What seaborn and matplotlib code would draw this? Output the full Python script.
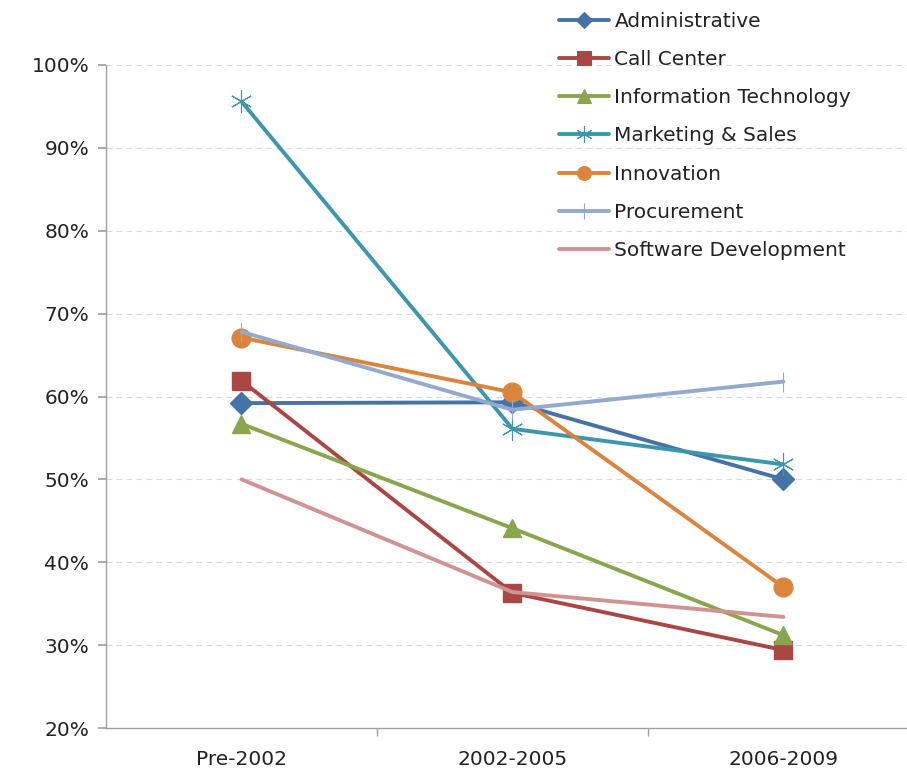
import pandas as pd
import matplotlib.pyplot as plt
import seaborn as sns
from matplotlib.lines import Line2D
from matplotlib.ticker import PercentFormatter

# data
periods = ["Pre-2002", "2002-2005", "2006-2009"]
administrative = [59.2, 59.3, 50.0]
call_center = [61.9, 36.3, 29.4]
info_tech = [56.7, 44.1, 31.2]
marketing_sales = [95.6, 56.1, 51.8]
innovation = [67.1, 60.5, 37.0]
procurement = [67.8, 58.4, 61.8]
software_dev = [50.0, 36.4, 33.4]

series = {
    "Administrative": administrative,
    "Call Center": call_center,
    "Information Technology": info_tech,
    "Marketing & Sales": marketing_sales,
    "Innovation": innovation,
    "Procurement": procurement,
    "Software Development": software_dev,
}

rows = []
for name, vals in series.items():
    for i, v in enumerate(vals):
        rows.append({"series": name, "x": i, "value": v})
df = pd.DataFrame(rows)

colors = {
    "Administrative": "#4572A7",
    "Call Center": "#AA4643",
    "Information Technology": "#89A54E",
    "Marketing & Sales": "#3D96AE",
    "Innovation": "#DB843D",
    "Procurement": "#93A9CF",
    "Software Development": "#D19392",
}
markers = {
    "Administrative": "D",
    "Call Center": "s",
    "Information Technology": "^",
    "Marketing & Sales": (6, 2, 0),
    "Innovation": "o",
    "Procurement": "|",
    "Software Development": "",
}
msize = {
    "Administrative": 11,
    "Call Center": 13,
    "Information Technology": 13,
    "Marketing & Sales": 16,
    "Innovation": 13.5,
    "Procurement": 15,
    "Software Development": 0,
}

sns.set_theme(style="white")
plt.rcParams["font.family"] = ["DejaVu Sans"]

fig = plt.figure(figsize=(9.07, 7.76), dpi=100)
ax = fig.add_axes([106 / 907, 1 - 728 / 776, 1 - 106 / 907, (728 - 65) / 776])

for name in series:
    sub = df[df["series"] == name]
    thin = name in ("Marketing & Sales", "Procurement")
    sns.lineplot(data=sub, x="x", y="value", ax=ax, color=colors[name],
                 linewidth=2.8, marker=markers[name] if markers[name] else None,
                 markersize=msize[name], markeredgewidth=0.8 if thin else 1,
                 markeredgecolor=colors[name], legend=False)

ax.set_ylim(20, 100)
ax.set_yticks(range(20, 101, 10))
ax.yaxis.set_major_formatter(PercentFormatter(decimals=0))
ax.set_xlim(-0.5, 2.456)
ax.set_xticks(range(3))
ax.set_xticklabels(periods)
ax.set_xticks([0.5, 1.5], minor=True)
ax.set_xlabel("")
ax.set_ylabel("")

ax.grid(axis="y", color="#d9d9d9", linestyle=(0, (5, 4)), linewidth=0.8)
ax.set_axisbelow(True)
for s in ["top", "right"]:
    ax.spines[s].set_visible(False)
for s in ["left", "bottom"]:
    ax.spines[s].set_color("#a0a0a0")
    ax.spines[s].set_linewidth(1)
ax.tick_params(axis="y", which="major", direction="out", length=6, color="#a0a0a0",
               labelsize=14.5, pad=6, left=True, labelcolor="#222222")
ax.tick_params(axis="x", which="major", length=0, labelsize=14.5, pad=16, labelcolor="#222222")
ax.tick_params(axis="x", which="minor", direction="out", length=6, color="#a0a0a0", bottom=True)

# legend with smaller markers, like the reference
leg_size = {"Administrative": 8, "Call Center": 10, "Information Technology": 10,
            "Marketing & Sales": 12, "Innovation": 10, "Procurement": 11,
            "Software Development": 0}
handles = [Line2D([], [], color=colors[n], linewidth=2.8,
                  marker=markers[n] if markers[n] else None, markersize=leg_size[n],
                  markeredgewidth=0.8, markeredgecolor=colors[n])
           for n in series]
fig.legend(handles, list(series), loc="upper left", bbox_to_anchor=(551 / 907, 1 - 4 / 776),
           frameon=False, fontsize=14.5, handlelength=2.5, handletextpad=0.25,
           labelspacing=0.95, borderaxespad=0, labelcolor="#222222")

plt.savefig("out.png", dpi=100)
